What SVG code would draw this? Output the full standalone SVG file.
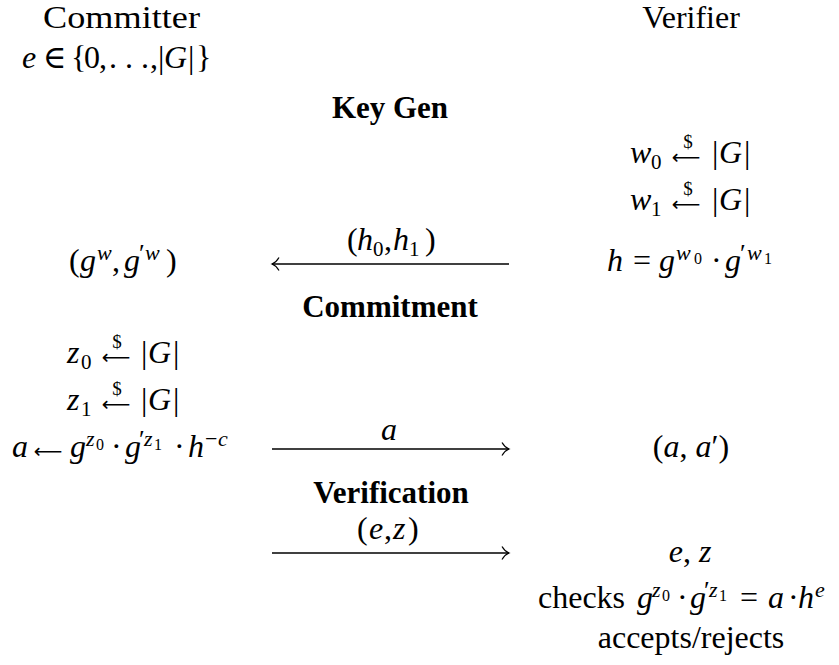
<svg xmlns="http://www.w3.org/2000/svg" width="839" height="665" viewBox="0 0 839 665">
  <style>
    .t { font-family: "Liberation Serif", "DejaVu Serif", serif; font-size: 32px; fill: #000; }
    .i { font-style: italic; }
    .b { font-weight: bold; font-size: 31px; }
    .sb { font-size: 21px; }
    .sp { font-size: 22px; }
    .pr { font-size: 26px; }
    .ss { font-size: 16px; }
    .dol { font-size: 19px; }
    .arr { font-family: "DejaVu Sans", sans-serif; font-size: 20px; }
    .mid { text-anchor: middle; }
    .wire { fill: none; stroke: #000; stroke-width: 1.3; }
  </style>
  <defs>
    <marker id="hook" markerUnits="userSpaceOnUse" viewBox="-9 -8 10 16" refX="0" refY="0" markerWidth="10" markerHeight="16" orient="auto" overflow="visible">
      <path d="M-7,-6.5 C-5,-3 -2,-0.8 0,0 C-2,0.8 -5,3 -7,6.5" fill="none" stroke="#000" stroke-width="1.2"/>
    </marker>
  </defs>
  <rect width="839" height="665" fill="#fff"/>

  <!-- Committer column -->
  <g id="committer">
    <text class="t" x="43" y="28" textLength="157" lengthAdjust="spacingAndGlyphs">Committer</text>
    <text class="t" y="68"><tspan class="i" x="22">e</tspan><tspan x="43">∈</tspan><tspan x="71">{</tspan><tspan x="84">0</tspan><tspan x="99">,</tspan><tspan x="109">.</tspan><tspan x="125">.</tspan><tspan x="141">.</tspan><tspan x="150">,</tspan><tspan x="158">|</tspan><tspan class="i" x="164">G</tspan><tspan x="188">|</tspan><tspan x="196">}</tspan></text>
  </g>

  <g id="committer-receive">
    <text class="t" y="271"><tspan x="69">(</tspan><tspan class="i" x="80">g</tspan><tspan class="i sp" x="97" y="260">w</tspan><tspan x="112" y="271">,</tspan><tspan class="i" x="124">g</tspan><tspan class="pr" x="139" y="262">′</tspan><tspan class="i sp" x="145" y="260">w</tspan><tspan x="166" y="271">)</tspan></text>
  </g>

  <g id="committer-commit">
    <text class="t" y="363"><tspan class="i" x="67">z</tspan><tspan class="sb" x="81" y="369">0</tspan><tspan class="arr mid" x="116" y="364">⟵</tspan><tspan class="dol mid" x="117" y="348">$</tspan><tspan x="141" y="363">|</tspan><tspan class="i" x="148">G</tspan><tspan x="173">|</tspan></text>
    <text class="t" y="410"><tspan class="i" x="67">z</tspan><tspan class="sb" x="81" y="416">1</tspan><tspan class="arr mid" x="116" y="411">⟵</tspan><tspan class="dol mid" x="117" y="395">$</tspan><tspan x="141" y="410">|</tspan><tspan class="i" x="148">G</tspan><tspan x="173">|</tspan></text>
    <text class="t" y="457"><tspan class="i" x="12">a</tspan><tspan class="arr mid" x="48" y="458">⟵</tspan><tspan class="i" x="70" y="457">g</tspan><tspan class="i sp" x="86" y="446">z</tspan><tspan class="ss" x="96" y="450">0</tspan><tspan x="111" y="457">·</tspan><tspan class="i" x="125">g</tspan><tspan class="pr" x="139" y="448">′</tspan><tspan class="i sp" x="144" y="446">z</tspan><tspan class="ss" x="154" y="450">1</tspan><tspan x="174" y="457">·</tspan><tspan class="i" x="188">h</tspan><tspan class="sp" x="205" y="446">−</tspan><tspan class="i sp" x="218" y="446">c</tspan></text>
  </g>

  <!-- Verifier column -->
  <g id="verifier">
    <text class="t mid" x="691" y="28">Verifier</text>
  </g>

  <g id="verifier-keygen">
    <text class="t" y="163"><tspan class="i" x="630">w</tspan><tspan class="sb" x="651" y="169">0</tspan><tspan class="arr mid" x="686" y="164">⟵</tspan><tspan class="dol mid" x="688" y="148">$</tspan><tspan x="712" y="163">|</tspan><tspan class="i" x="719">G</tspan><tspan x="744">|</tspan></text>
    <text class="t" y="210"><tspan class="i" x="630">w</tspan><tspan class="sb" x="651" y="216">1</tspan><tspan class="arr mid" x="686" y="211">⟵</tspan><tspan class="dol mid" x="688" y="195">$</tspan><tspan x="712" y="210">|</tspan><tspan class="i" x="719">G</tspan><tspan x="744">|</tspan></text>
    <text class="t" y="271"><tspan class="i" x="607">h</tspan><tspan x="633">=</tspan><tspan class="i" x="659">g</tspan><tspan class="i sp" x="676" y="260">w</tspan><tspan class="ss" x="694" y="264">0</tspan><tspan x="711" y="271">·</tspan><tspan class="i" x="725">g</tspan><tspan class="pr" x="740" y="262">′</tspan><tspan class="i sp" x="747" y="260">w</tspan><tspan class="ss" x="764" y="264">1</tspan></text>
  </g>

  <g id="verifier-commit">
    <text class="t mid" x="691" y="457">(<tspan class="i">a</tspan>, <tspan class="i">a</tspan>′)</text>
  </g>

  <g id="verifier-check">
    <text class="t mid" x="690" y="562"><tspan class="i">e</tspan>, <tspan class="i">z</tspan></text>
    <text class="t" y="608"><tspan x="538">checks</tspan><tspan class="i" x="637">g</tspan><tspan class="i sp" x="652" y="597">z</tspan><tspan class="ss" x="662" y="601">0</tspan><tspan x="677" y="608">·</tspan><tspan class="i" x="690">g</tspan><tspan class="pr" x="704" y="599">′</tspan><tspan class="i sp" x="709" y="597">z</tspan><tspan class="ss" x="719" y="601">1</tspan><tspan x="740" y="608">=</tspan><tspan class="i" x="768">a</tspan><tspan x="788">·</tspan><tspan class="i" x="798">h</tspan><tspan class="i sp" x="815" y="597">e</tspan></text>
    <text class="t mid" x="691" y="648">accepts/rejects</text>
  </g>

  <!-- Phase headings -->
  <g id="phase-keygen"><text class="t b mid" x="390" y="118">Key Gen</text></g>
  <g id="phase-commitment"><text class="t b mid" x="390" y="317">Commitment</text></g>
  <g id="phase-verification"><text class="t b mid" x="391" y="503">Verification</text></g>

  <!-- Messages between the parties -->
  <g id="connectors">
    <path class="wire" d="M509,264 H272" marker-end="url(#hook)"/>
    <text class="t" y="250"><tspan x="347">(</tspan><tspan class="i" x="357">h</tspan><tspan class="sb" x="373" y="256">0</tspan><tspan x="384" y="250">,</tspan><tspan class="i" x="393">h</tspan><tspan class="sb" x="409" y="256">1</tspan><tspan x="425" y="250">)</tspan></text>

    <path class="wire" d="M272,449 H509" marker-end="url(#hook)"/>
    <text class="t i mid" x="389" y="440">a</text>

    <path class="wire" d="M272,553 H509" marker-end="url(#hook)"/>
    <text class="t" y="539"><tspan x="357">(</tspan><tspan class="i" x="369">e</tspan><tspan x="384">,</tspan><tspan class="i" x="393">z</tspan><tspan x="408">)</tspan></text>
  </g>
</svg>
